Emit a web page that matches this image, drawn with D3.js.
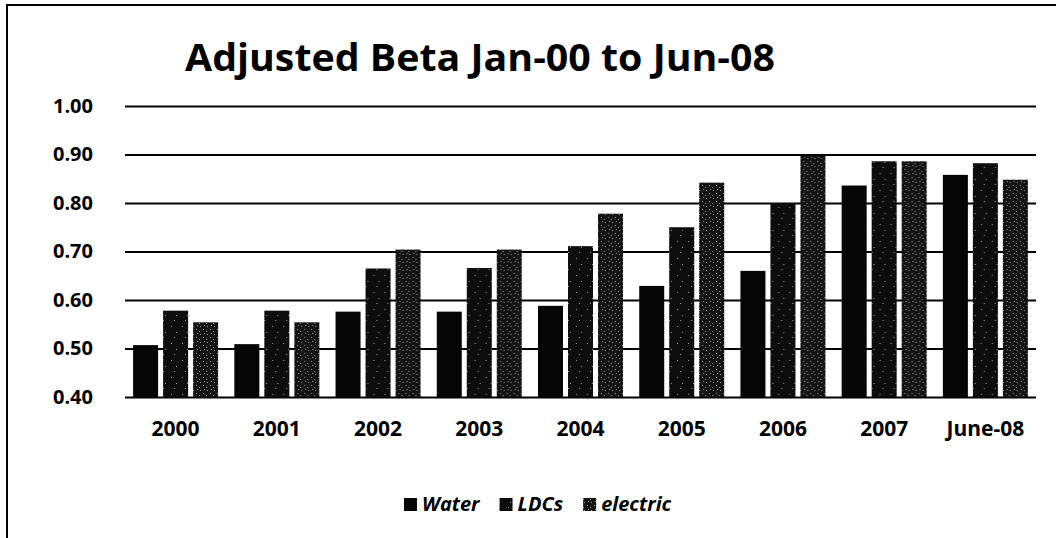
<!DOCTYPE html>
<html>
<head>
<meta charset="utf-8">
<script src="https://cdn.jsdelivr.net/npm/d3@7"></script>
<style>
  html, body { margin: 0; padding: 0; background: #fff; }
  svg { display: block; }
</style>
</head>
<body>
<svg id="chart" width="1056" height="538"></svg>
<script>
// Adjusted beta by year for three utility groups
const categories = ["2000", "2001", "2002", "2003", "2004", "2005", "2006", "2007", "June-08"];
const seriesNames = ["Water", "LDCs", "electric"];
const water    = [0.507, 0.509, 0.576, 0.576, 0.588, 0.629, 0.660, 0.836, 0.858];
const ldcs     = [0.578, 0.578, 0.665, 0.666, 0.711, 0.750, 0.800, 0.886, 0.882];
const electric = [0.554, 0.554, 0.704, 0.704, 0.778, 0.842, 0.897, 0.886, 0.848];
const yTicks   = [0.40, 0.50, 0.60, 0.70, 0.80, 0.90, 1.00];
const titleText = "Adjusted Beta Jan-00 to Jun-08";

const seriesValues = { "Water": water, "LDCs": ldcs, "electric": electric };

const svg = d3.select("#chart");
const W = 1056, H = 538;
const plot = { left: 125, right: 1036, top: 106, bottom: 397 };
const FONT = "'Open Sans', 'Noto Sans', sans-serif";

// fills: solid black, and two dark speckled textures
const defs = svg.append("defs");
function speckle(id, base, dots, w, h, dotColor) {
  const p = defs.append("pattern")
    .attr("id", id).attr("patternUnits", "userSpaceOnUse")
    .attr("width", w).attr("height", h);
  p.append("rect").attr("width", w).attr("height", h).attr("fill", base);
  dots.forEach(([dx, dy]) => p.append("rect")
    .attr("x", dx).attr("y", dy).attr("width", 1).attr("height", 1)
    .attr("fill", dotColor));
}
speckle("pat-ldcs", "#0d0d0d", [[2, 3], [7, 9], [5, 14]], 11, 17, "#a0a0a0");
speckle("pat-elec", "#141414", [[1, 1], [4, 3], [2, 5], [5, 6]], 7, 8, "#9a9a9a");

const fills = { "Water": "#050505", "LDCs": "url(#pat-ldcs)", "electric": "url(#pat-elec)" };

// outer frame (left and top edges)
svg.append("line").attr("x1", 7).attr("y1", 5).attr("x2", 7).attr("y2", H)
  .attr("stroke", "#000").attr("stroke-width", 2);
svg.append("line").attr("x1", 6).attr("y1", 5).attr("x2", W).attr("y2", 5)
  .attr("stroke", "#000").attr("stroke-width", 2);

// title
svg.append("text")
  .attr("x", 185).attr("y", 71)
  .attr("font-family", FONT).attr("font-weight", 700).attr("font-size", 37)
  .attr("textLength", 590).attr("lengthAdjust", "spacingAndGlyphs")
  .attr("fill", "#000")
  .text(titleText);

// scales
const x0 = d3.scaleBand().domain(categories).range([plot.left, plot.right]).padding(0);
const x1 = d3.scaleBand().domain(seriesNames).range([0, x0.bandwidth()])
  .paddingInner(1 / 6).paddingOuter(0.27);
const y = d3.scaleLinear().domain([0.4, 1.0]).range([plot.bottom, plot.top]);

// horizontal gridlines
const yAxis = d3.axisLeft(y).tickValues(yTicks).tickFormat(d3.format(".2f"))
  .tickSize(-(plot.right - plot.left)).tickPadding(32);
const gy = svg.append("g").attr("transform", `translate(${plot.left},0)`).call(yAxis);
gy.select(".domain").remove();
gy.selectAll(".tick line").attr("stroke", "#000").attr("stroke-width", 1.8);
gy.selectAll(".tick text")
  .attr("font-family", FONT).attr("font-weight", 700).attr("font-size", 20)
  .attr("fill", "#000");

// bars
const groups = svg.append("g").selectAll("g")
  .data(categories)
  .join("g")
  .attr("transform", d => `translate(${x0(d)},0)`);

groups.selectAll("rect")
  .data((c, i) => seriesNames.map(s => ({ s, v: seriesValues[s][i] })))
  .join("rect")
  .attr("x", d => x1(d.s))
  .attr("width", x1.bandwidth())
  .attr("y", d => y(d.v))
  .attr("height", d => y(0.4) - y(d.v))
  .attr("fill", d => fills[d.s]);

// category axis
const xAxis = d3.axisBottom(x0).tickSize(0).tickPadding(24);
const gx = svg.append("g").attr("transform", `translate(0,${plot.bottom})`).call(xAxis);
gx.select(".domain").remove();
gx.selectAll(".tick text")
  .attr("font-family", FONT).attr("font-weight", 700).attr("font-size", 21)
  .attr("fill", "#000");

// legend
const legend = svg.append("g").attr("transform", "translate(404,0)");
let lx = 0;
seriesNames.forEach(name => {
  legend.append("rect")
    .attr("x", lx).attr("y", 498).attr("width", 13).attr("height", 13)
    .attr("fill", fills[name]);
  const t = legend.append("text")
    .attr("x", lx + 18).attr("y", 511)
    .attr("font-family", FONT).attr("font-weight", 700).attr("font-style", "italic")
    .attr("font-size", 20).attr("fill", "#000")
    .text(name);
  lx += 18 + t.node().getComputedTextLength() + 20;
});
</script>
</body>
</html>
